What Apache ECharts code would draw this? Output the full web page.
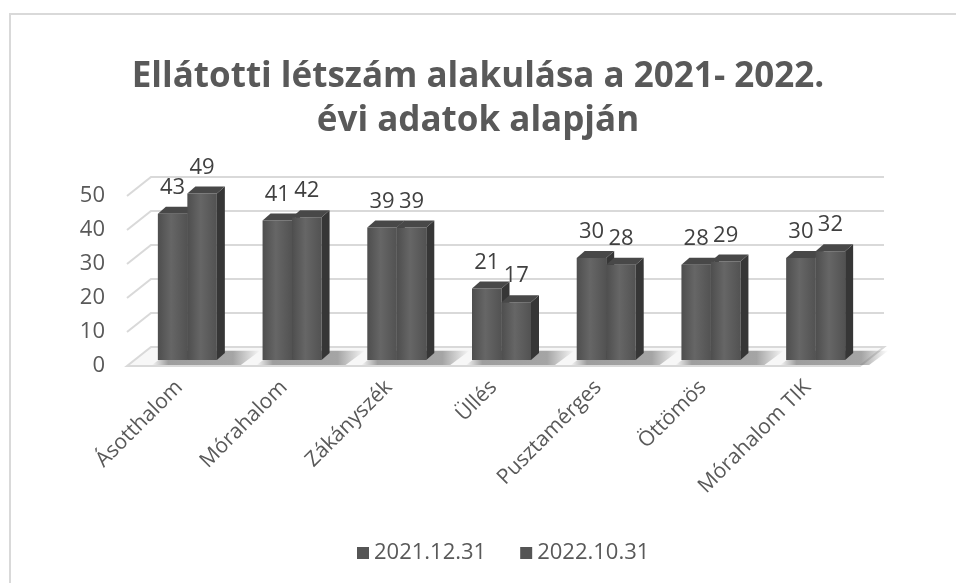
<html>
<head>
<meta charset="utf-8">
<script src="https://cdn.jsdelivr.net/npm/echarts@6/dist/echarts.min.js"></script>
<style>
  html, body, #main { width: 100%; height: 100%; margin: 0; background: #fff; }
</style>
</head>
<body>
<div id="main"></div>
<script type="text/javascript">
// adatok
var categories = ['Ásotthalom', 'Mórahalom', 'Zákányszék', 'Üllés', 'Pusztamérges', 'Öttömös', 'Mórahalom TIK'];
var seriesNames = ['2021.12.31', '2022.10.31'];
var values2021 = [43, 41, 39, 21, 30, 28, 30];
var values2022 = [49, 42, 39, 17, 28, 29, 32];
var yTicks = [0, 10, 20, 30, 40, 50];

var FONT = '"Open Sans", sans-serif';
// 3D eltolások
var BACK_DX = 24, BACK_DY = 19;   // hátfal
var OFF_DX = 8, OFF_DY = 6;       // oszlop eleje a padlón
var SIDE_DX = 8, SIDE_DY = 7;     // oszlop mélysége
var BAR_W = 29.5;

var chart = echarts.init(document.getElementById('main'));

function wallItem(params, api) {
    var cs = params.coordSys;
    var t = api.value(0);
    var y = api.coord([0, t])[1];
    var x0 = cs.x, x1 = cs.x + cs.width;
    if (t === 0) {
        var children = [{
            type: 'polygon',
            shape: { points: [[x0, y], [x1, y], [x1 + BACK_DX, y - BACK_DY], [x0 + BACK_DX, y - BACK_DY]] },
            style: { fill: '#f7f7f7', stroke: '#d9d9d9', lineWidth: 2 }
        }];
        // árnyékok a padlón
        for (var i = 0; i < categories.length; i++) {
            var cx = api.coord([i, 0])[0];
            children.push({
                type: 'polygon',
                shape: { points: [
                    [cx + OFF_DX - BAR_W - 6, y - 1],
                    [cx + OFF_DX + BAR_W + 24, y - 1],
                    [cx + OFF_DX + BAR_W + 24 + BACK_DX * 0.8, y - BACK_DY * 0.8],
                    [cx + OFF_DX - BAR_W - 6 + BACK_DX * 0.8, y - BACK_DY * 0.8]
                ] },
                style: {
                    fill: new echarts.graphic.LinearGradient(0, 0, 1, 0, [
                        { offset: 0, color: 'rgba(110,110,110,0)' },
                        { offset: 0.15, color: 'rgba(110,110,110,0.65)' },
                        { offset: 0.75, color: 'rgba(110,110,110,0.6)' },
                        { offset: 1, color: 'rgba(110,110,110,0)' }
                    ])
                }
            });
        }
        return { type: 'group', children: children };
    }
    return {
        type: 'polyline',
        shape: { points: [[x0, y], [x0 + BACK_DX, y - BACK_DY], [x1 + BACK_DX, y - BACK_DY]] },
        style: { stroke: '#d9d9d9', lineWidth: 2, fill: null }
    };
}

function makeBarItem(which) {
    return function (params, api) {
        var idx = api.value(0), val = api.value(1);
        var base = api.coord([idx, 0]);
        var top = api.coord([idx, val]);
        var left = base[0] + OFF_DX + (which === 0 ? -BAR_W : 0);
        var right = left + BAR_W;
        var yb = base[1] - OFF_DY;
        var yt = top[1] - OFF_DY;
        return {
            type: 'group',
            children: [{
                type: 'rect',
                shape: { x: left, y: yt, width: BAR_W, height: yb - yt },
                style: {
                    fill: new echarts.graphic.LinearGradient(0, 0, 1, 0, [
                        { offset: 0, color: '#4e4e4e' },
                        { offset: 0.45, color: '#666666' },
                        { offset: 1, color: '#525252' }
                    ])
                }
            }, {
                type: 'polygon',
                shape: { points: [[right, yt], [right + SIDE_DX, yt - SIDE_DY], [right + SIDE_DX, yb - SIDE_DY], [right, yb]] },
                style: { fill: '#363636' }
            }, {
                type: 'polygon',
                shape: { points: [[left, yt], [right, yt], [right + SIDE_DX, yt - SIDE_DY], [left + SIDE_DX, yt - SIDE_DY]] },
                style: { fill: '#484848' }
            }, {
                type: 'text',
                style: {
                    text: String(val),
                    x: left + BAR_W / 2,
                    y: yt - 26,
                    align: 'center',
                    verticalAlign: 'middle',
                    fill: '#404040',
                    font: '22px ' + FONT
                }
            }]
        };
    };
}

function pairs(arr) {
    return arr.map(function (v, i) { return [i, v]; });
}

var option = {
    backgroundColor: '#fff',
    animation: false,
    graphic: [{
        type: 'rect',
        shape: { x: 10, y: 14, width: 980, height: 600 },
        style: { fill: null, stroke: '#d9d9d9', lineWidth: 2 }
    }],
    title: {
        text: 'Ellátotti létszám alakulása a 2021- 2022.\névi adatok alapján',
        left: 'center',
        top: 50,
        textStyle: {
            fontFamily: FONT,
            fontSize: 35,
            fontWeight: 'bold',
            color: '#595959',
            lineHeight: 44
        }
    },
    legend: {
        data: seriesNames,
        top: 537,
        left: 352,
        icon: 'rect',
        itemWidth: 12,
        itemHeight: 12,
        itemGap: 34,
        textStyle: { fontFamily: FONT, fontSize: 22, color: '#595959' }
    },
    grid: { left: 127, right: 96, top: 196, bottom: 217 },
    xAxis: {
        type: 'category',
        data: categories,
        axisLine: { show: false },
        axisTick: { show: false },
        axisLabel: {
            interval: 0,
            rotate: 45,
            margin: 18,
            fontFamily: FONT,
            fontSize: 21,
            color: '#595959'
        }
    },
    yAxis: {
        type: 'value',
        min: 0,
        max: 50,
        interval: 10,
        axisLine: { show: false },
        axisTick: { show: false },
        splitLine: { show: false },
        axisLabel: { margin: 22, fontFamily: FONT, fontSize: 22, color: '#595959' }
    },
    series: [{
        type: 'custom',
        name: 'wall',
        renderItem: wallItem,
        data: yTicks.map(function (t) { return [t]; }),
        encode: { y: 0 },
        silent: true,
        z: 1
    }, {
        type: 'custom',
        name: seriesNames[0],
        renderItem: makeBarItem(0),
        data: pairs(values2021),
        encode: { x: 0, y: 1 },
        itemStyle: { color: '#555555' },
        z: 2
    }, {
        type: 'custom',
        name: seriesNames[1],
        renderItem: makeBarItem(1),
        data: pairs(values2022),
        encode: { x: 0, y: 1 },
        itemStyle: { color: '#555555' },
        z: 3
    }]
};
chart.setOption(option);
window.onresize = chart.resize;
</script>
</body>
</html>
